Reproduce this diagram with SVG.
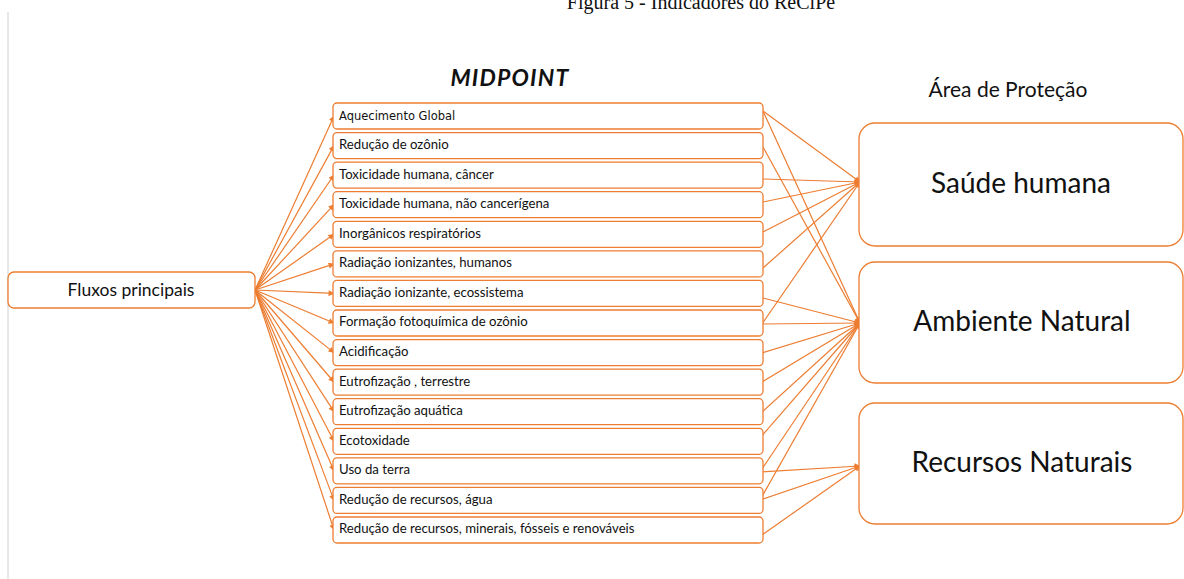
<svg xmlns="http://www.w3.org/2000/svg" width="1184" height="579" viewBox="0 0 1184 579">
  <style>
    .box { fill: #ffffff; stroke: #ED7D31; stroke-width: 1.3; }
    .lbl { font-family: Lato, "Noto Sans", sans-serif; fill: #111111; }
    .mid { font-size: 13.2px; }
    .area { font-size: 28px; text-anchor: middle; }
    .link { fill: none; stroke: #ED7D31; stroke-width: 1.2; marker-end: url(#arrow); }
    .out { fill: none; stroke: #ED7D31; stroke-width: 1.2; marker-end: url(#arrow); }
  </style>
  <defs>
    <marker id="arrow" viewBox="0 0 10 10" refX="9" refY="5" markerWidth="7" markerHeight="6" markerUnits="userSpaceOnUse" orient="auto">
      <path d="M0,0 L10,5 L0,10 z" fill="#ED7D31"/>
    </marker>
  </defs>

  <rect width="1184" height="579" fill="#ffffff"/>

  <!-- caption, partly cut by the top edge -->
  <text x="701" y="9" font-family="Liberation Serif, serif" font-size="20" text-anchor="middle" fill="#111">Figura 5 - Indicadores do ReCiPe</text>
  <line x1="8" y1="12" x2="8" y2="579" stroke="#d0d0d0" stroke-width="1"/>

  <!-- headings -->
  <text x="510" y="86" class="lbl" font-size="23" font-weight="bold" font-style="italic" letter-spacing="1.2" text-anchor="middle">MIDPOINT</text>
  <text x="1008" y="97" class="lbl" font-size="21" text-anchor="middle">Área de Proteção</text>

  <!-- connectors -->
  <g id="connectors">
    <!-- inventory flows to midpoint categories -->
    <path class="link" d="M255,290 L334,116"/>
    <path class="link" d="M255,290 L334,145.6"/>
    <path class="link" d="M255,290 L334,175"/>
    <path class="link" d="M255,290 L334,204.7"/>
    <path class="link" d="M255,290 L334,234.3"/>
    <path class="link" d="M255,290 L334,263.9"/>
    <path class="link" d="M255,290 L334,293.4"/>
    <path class="link" d="M255,290 L334,323"/>
    <path class="link" d="M255,290 L334,352.6"/>
    <path class="link" d="M255,290 L334,382"/>
    <path class="link" d="M255,290 L334,411.7"/>
    <path class="link" d="M255,290 L334,441.3"/>
    <path class="link" d="M255,290 L334,470.8"/>
    <path class="link" d="M255,290 L334,500.4"/>
    <path class="link" d="M255,290 L334,530"/>
    <!-- midpoint categories to areas of protection -->
    <path class="out" d="M763,111 L860,182"/>
    <path class="out" d="M763,111 L860,323"/>
    <path class="out" d="M763,147 L860,323"/>
    <path class="out" d="M763,179 L860,182"/>
    <path class="out" d="M763,202 L860,182"/>
    <path class="out" d="M763,232 L860,182"/>
    <path class="out" d="M763,268 L860,182"/>
    <path class="out" d="M763,298 L860,323"/>
    <path class="out" d="M762,324 L860,182"/>
    <path class="out" d="M762,324 L860,323"/>
    <path class="out" d="M762,353 L860,323"/>
    <path class="out" d="M762,382 L860,323"/>
    <path class="out" d="M762,412 L860,323"/>
    <path class="out" d="M760,438 L860,323"/>
    <path class="out" d="M760,472 L860,323"/>
    <path class="out" d="M760,472 L860,466"/>
    <path class="out" d="M760,500 L860,323"/>
    <path class="out" d="M760,500 L860,466"/>
    <path class="out" d="M762,535 L860,466"/>
  </g>

  <!-- source node -->
  <g id="fluxos">
    <rect class="box" x="8" y="272" width="247" height="36" rx="6"/>
    <text x="131" y="296" class="lbl" font-size="17.5" text-anchor="middle">Fluxos principais</text>
  </g>

  <!-- midpoint categories -->
  <g id="m00"><rect class="box" x="333" y="103" width="430" height="26" rx="4"/><text x="339" y="119.5" font-family="DejaVu Sans, sans-serif" font-size="11.5" fill="#111">Aquecimento Global</text></g>
  <g id="m01"><rect class="box" x="333" y="132.6" width="430" height="26" rx="4"/><text x="339" y="149" class="lbl mid">Redução de ozônio</text></g>
  <g id="m02"><rect class="box" x="333" y="162.1" width="430" height="26" rx="4"/><text x="339" y="178.5" class="lbl mid">Toxicidade humana, câncer</text></g>
  <g id="m03"><rect class="box" x="333" y="191.7" width="430" height="26" rx="4"/><text x="339" y="208.1" class="lbl mid">Toxicidade humana, não cancerígena</text></g>
  <g id="m04"><rect class="box" x="333" y="221.3" width="430" height="26" rx="4"/><text x="339" y="237.7" class="lbl mid">Inorgânicos respiratórios</text></g>
  <g id="m05"><rect class="box" x="333" y="250.9" width="430" height="26" rx="4"/><text x="339" y="267.3" class="lbl mid">Radiação ionizantes, humanos</text></g>
  <g id="m06"><rect class="box" x="333" y="280.4" width="430" height="26" rx="4"/><text x="339" y="296.8" class="lbl mid">Radiação ionizante, ecossistema</text></g>
  <g id="m07"><rect class="box" x="333" y="310" width="430" height="26" rx="4"/><text x="339" y="326.4" class="lbl mid">Formação fotoquímica de ozônio</text></g>
  <g id="m08"><rect class="box" x="333" y="339.6" width="430" height="26" rx="4"/><text x="339" y="356" class="lbl mid">Acidificação</text></g>
  <g id="m09"><rect class="box" x="333" y="369.1" width="430" height="26" rx="4"/><text x="339" y="385.5" class="lbl mid">Eutrofização , terrestre</text></g>
  <g id="m10"><rect class="box" x="333" y="398.7" width="430" height="26" rx="4"/><text x="339" y="415.1" class="lbl mid">Eutrofização aquática</text></g>
  <g id="m11"><rect class="box" x="333" y="428.3" width="430" height="26" rx="4"/><text x="339" y="444.7" class="lbl mid">Ecotoxidade</text></g>
  <g id="m12"><rect class="box" x="333" y="457.8" width="430" height="26" rx="4"/><text x="339" y="474.2" class="lbl mid">Uso da terra</text></g>
  <g id="m13"><rect class="box" x="333" y="487.4" width="430" height="26" rx="4"/><text x="339" y="503.8" class="lbl mid">Redução de recursos, água</text></g>
  <g id="m14"><rect class="box" x="333" y="517" width="430" height="26" rx="4"/><text x="339" y="533.4" class="lbl mid">Redução de recursos, minerais, fósseis e renováveis</text></g>

  <!-- areas of protection -->
  <g id="saude">
    <rect class="box" x="859" y="123" width="324" height="123" rx="16"/>
    <text x="1021" y="193" class="lbl area">Saúde humana</text>
  </g>
  <g id="ambiente">
    <rect class="box" x="859" y="262" width="324" height="121" rx="16"/>
    <text x="1022" y="331" class="lbl area">Ambiente Natural</text>
  </g>
  <g id="recursos">
    <rect class="box" x="859" y="403" width="324" height="121" rx="16"/>
    <text x="1022" y="472" class="lbl area">Recursos Naturais</text>
  </g>
</svg>
